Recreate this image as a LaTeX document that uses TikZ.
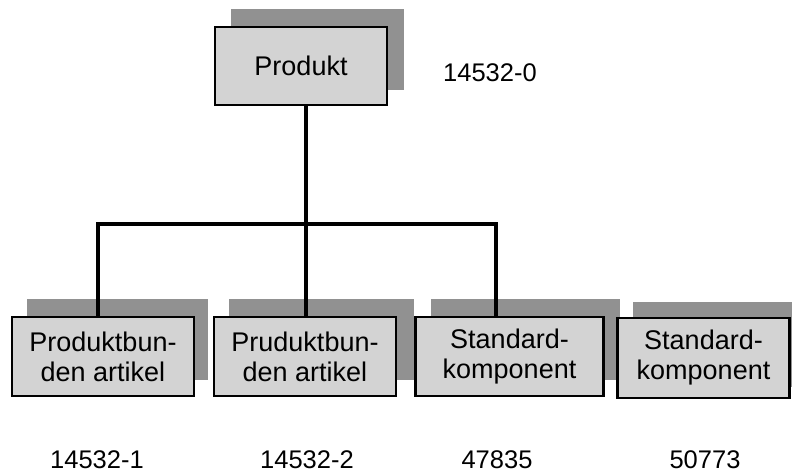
\documentclass[tikz,border=0pt]{standalone}
\usepackage{fontspec}
\setmainfont{Liberation Sans}
\definecolor{boxfill}{HTML}{D3D3D3}
\definecolor{shadowfill}{HTML}{919191}
\begin{document}
\begin{tikzpicture}[x=1pt,y=-1pt,
  box/.style={draw=black, line width=2.6pt, fill=boxfill, inner sep=0pt, align=center,
    font=\fontsize{27}{30}\selectfont},
  conn/.style={line width=4pt, line cap=butt},
  num/.style={font=\fontsize{25.5}{30}\selectfont, inner sep=0pt}]
\useasboundingbox (0,0) rectangle (792,475);
% shadows
\fill[shadowfill] (231,9) rectangle (404,90);
\fill[shadowfill] (27,299) rectangle (208,380);
\fill[shadowfill] (229,299) rectangle (414,380);
\fill[shadowfill] (431,299) rectangle (620,380);
\fill[shadowfill] (633,302) rectangle (792,387);
% boxes
\node[box, minimum width=172pt, minimum height=78pt] (top) at (301,66) {Produkt};
\node[box, minimum width=182pt, minimum height=79pt] (b1) at (103,356.5) {Produktbun-\\den artikel};
\node[box, minimum width=182pt, minimum height=79pt] (b2) at (305,356.5) {Pruduktbun-\\den artikel};
\node[box, minimum width=188pt, minimum height=79pt] (b3) at (509.5,356.5) {Standard-\\komponent};
\node[box, minimum width=172pt, minimum height=80pt] (b4) at (703.5,358) {Standard-\\komponent};
% connectors
\coordinate (hl) at (98,224);
\coordinate (hm) at (306,224);
\coordinate (hr) at (496,224);
\draw[conn] (top.south -| hm) -- (hm);
\draw[conn] ([xshift=-2pt]hl) -- ([xshift=2pt]hr);
\draw[conn] ([yshift=-2pt]hl) -- (b1.north -| hl);
\draw[conn] (hm) -- (b2.north -| hm);
\draw[conn] ([yshift=-2pt]hr) -- (b3.north -| hr);
% numbers
\node[num] (n0) at (490,73) {14532-0};
\node[num] (n1) at (97,460) {14532-1};
\node[num] (n2) at (307,460) {14532-2};
\node[num] (n3) at (497,460) {47835};
\node[num] (n4) at (705,460) {50773};
\end{tikzpicture}
\end{document}
